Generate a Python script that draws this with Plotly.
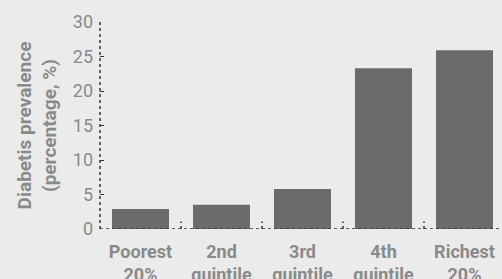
import plotly.graph_objects as go

categories = ["Poorest<br>20%", "2nd<br>quintile", "3rd<br>quintile", "4th<br>quintile", "Richest<br>20%"]
prevalence = [2.9, 3.5, 5.8, 23.3, 25.9]
y_ticks = [0, 5, 10, 15, 20, 25, 30]

BG = "#ebebeb"
BAR = "#6b6b6e"
TXT = "#8a8a8a"
AX = "#333333"
FONT = "Roboto"

fig = go.Figure()
fig.add_trace(go.Bar(x=list(range(len(categories))), y=prevalence,
                     marker=dict(color=BAR, line=dict(width=0))))

fig.update_layout(
    width=502, height=279,
    paper_bgcolor=BG, plot_bgcolor=BG,
    margin=dict(l=100, r=0, t=22, b=50),
    bargap=0.296,
    showlegend=False,
    font=dict(family=FONT, color=TXT),
    xaxis=dict(
        tickmode="array", tickvals=list(range(len(categories))), ticktext=categories,
        range=[-0.5, -0.5 + 402 / 81],
        showgrid=False, zeroline=False, showline=False, automargin=False,
        ticks="", ticklabelstandoff=10,
        tickfont=dict(size=18, family=FONT, color=TXT, weight="bold"),
    ),
    yaxis=dict(
        range=[0, 30], tickvals=y_ticks,
        showgrid=False, zeroline=False, showline=False, automargin=False,
        ticks="inside", ticklen=4, tickwidth=1, tickcolor=AX,
        tickfont=dict(size=18, family=FONT, color=TXT),
        ticklabelstandoff=6,
        title=dict(text="Diabetis prevalence<br>(percentage, %)",
                   font=dict(size=19, family=FONT, color=TXT, weight="bold"),
                   standoff=11),
    ),
)

# dotted axis lines
fig.add_shape(type="line", xref="paper", yref="y", x0=0, x1=1, y0=0, y1=0,
              line=dict(color=AX, width=1.5, dash="dot"))
fig.add_shape(type="line", xref="paper", yref="paper", x0=0, x1=0, y0=0, y1=1,
              line=dict(color=AX, width=1.5, dash="dot"))
# dotted category boundary ticks
for i in range(len(categories) - 1):
    fig.add_shape(type="line", xref="x", yref="y", x0=i + 0.5, x1=i + 0.5, y0=0, y1=1.1,
                  line=dict(color=AX, width=1.5, dash="dot"))

fig.write_html("out.html", config={"displayModeBar": False},
               post_script="document.body.style.margin='0';document.body.style.background='%s';" % BG)
